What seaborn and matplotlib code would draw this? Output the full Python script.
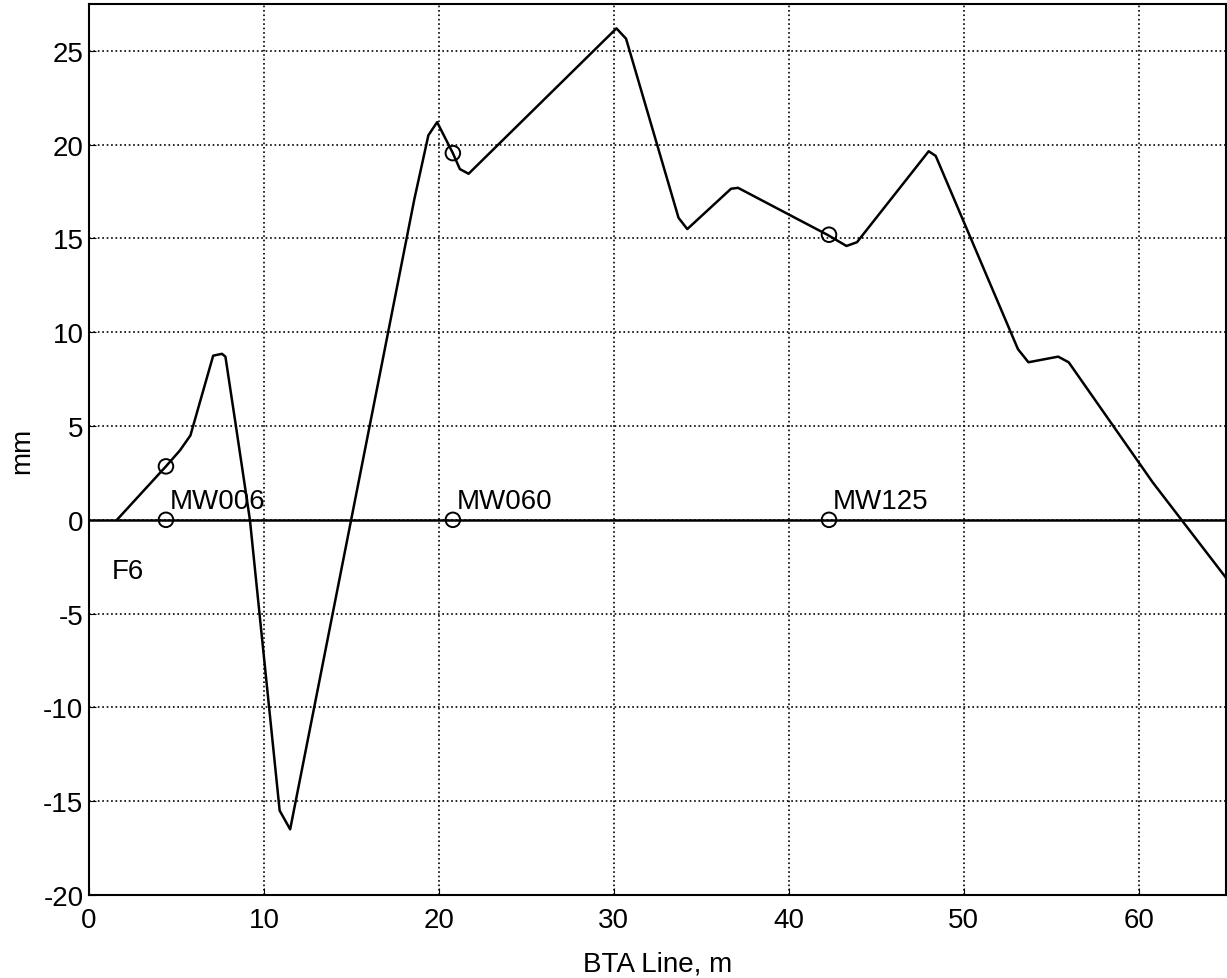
import numpy as np
import pandas as pd
import matplotlib
matplotlib.use('Agg')
import matplotlib.pyplot as plt
import seaborn as sns

# Profile along the BTA line
bta_x = [1.6, 4.4, 5.2, 5.8, 7.1, 7.6, 7.8, 8.4, 9.2, 10.9, 11.5, 18.6, 19.4, 19.9,
         20.8, 21.2, 21.7, 30.15, 30.7, 33.7, 34.2, 36.7, 37.1, 42.2, 43.3, 43.9,
         48.0, 48.4, 53.1, 53.7, 55.4, 56.0, 60.8, 65.0]
bta_y = [0.0, 2.85, 3.7, 4.5, 8.75, 8.85, 8.7, 5.0, 0.0, -15.5, -16.5, 17.1, 20.5, 21.2,
         19.55, 18.7, 18.45, 26.2, 25.65, 16.1, 15.5, 17.65, 17.7, 15.2, 14.6, 14.8,
         19.65, 19.4, 9.1, 8.4, 8.7, 8.4, 2.0, -3.1]

# Monitoring wells
mw_names = ['MW006', 'MW060', 'MW125']
mw_x = [4.4, 20.8, 42.3]
mw_y = [2.85, 19.55, 15.2]
mw_base = [0.0, 0.0, 0.0]

sns.set_style('ticks')
plt.rcParams['font.family'] = ['Liberation Sans', 'DejaVu Sans']
plt.rcParams['axes.unicode_minus'] = False
plt.rcParams['text.color'] = 'black'
plt.rcParams['axes.labelcolor'] = 'black'
plt.rcParams['xtick.color'] = 'black'
plt.rcParams['ytick.color'] = 'black'

fig = plt.figure(figsize=(12.27, 9.79), dpi=100)
ax = fig.add_axes([0.0725, 0.0848, 0.9268, 0.9101])

profile = pd.DataFrame({'x': bta_x, 'y': bta_y})
sns.lineplot(data=profile, x='x', y='y', sort=False, color='black', linewidth=1.8, ax=ax)

ax.axhline(0, color='black', linewidth=1.8, zorder=2)

wells = pd.DataFrame({'x': mw_x + mw_x, 'y': mw_y + mw_base})
sns.scatterplot(data=wells, x='x', y='y', marker='o', s=110, facecolor='none',
                edgecolor='black', linewidth=1.4, ax=ax, zorder=4)

for name, xx, yy in zip(mw_names, mw_x, mw_base):
    ax.text(xx + 0.2, yy + 0.3, name, fontsize=20, ha='left', va='bottom')

ax.text(1.3, -2.75, 'F6', fontsize=20, ha='left', va='center')

ax.set_xlim(0, 65)
ax.set_ylim(-20, 27.5)
ax.set_xticks(range(0, 61, 10))
ax.set_yticks(range(-20, 26, 5))
ax.grid(True, linestyle=':', color='black', linewidth=1.2)
ax.tick_params(direction='in', labelsize=20, length=5, color='black')
ax.tick_params(axis='x', pad=9)
ax.tick_params(axis='y', pad=4)
for s in ax.spines.values():
    s.set_color('black')
    s.set_linewidth(1.5)

ax.set_xlabel('BTA Line, m', fontsize=20, labelpad=12)
ax.set_ylabel('mm', fontsize=20, labelpad=6)

fig.savefig('out.png', dpi=100)
